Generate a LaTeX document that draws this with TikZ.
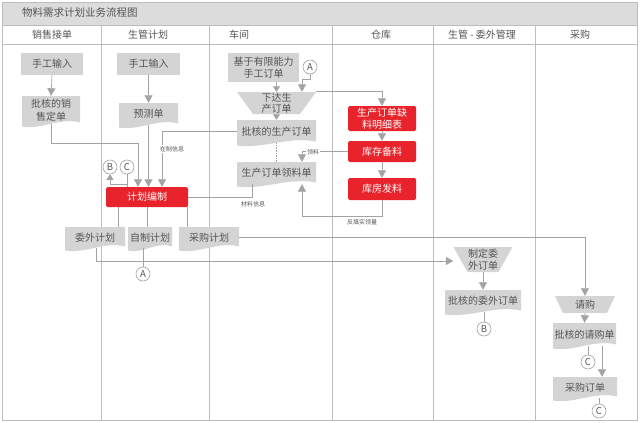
\documentclass[tikz,border=0pt]{standalone}
\usepackage{fontspec}
\setmainfont{Noto Sans CJK SC}
\usetikzlibrary{arrows.meta,calc}
\definecolor{boxgray}{HTML}{D4D4D4}
\definecolor{titlegray}{HTML}{DCDCDC}
\definecolor{linegray}{HTML}{A3A3A3}
\definecolor{txtgray}{HTML}{555555}
\definecolor{myred}{HTML}{E8232B}
\definecolor{framegray}{HTML}{BDBDBD}
\newcommand\docs[6]{%
  \fill[boxgray] (#2,#3) -- (#4,#3) -- (#4,{#5-1.5}) .. controls ({#2+0.65*(#4-#2)},{#5-7}) and ({#2+0.35*(#4-#2)},{#5+6}) .. (#2,{#5+2.5}) -- cycle;
  \node[gtext, minimum width={#4-#2}, minimum height={#5-#3}] (#1) at ({(#2+#4)/2},{(#3+#5)/2}) {#6};}
\newcommand\traps[8][]{%
  \fill[boxgray] ({#3-#6},#4) -- ({#3+#6},#4) -- ({#3+#7},#5) -- ({#3-#7},#5) -- cycle;
  \node[gtext, minimum width={2*#6}, minimum height={#5-#4}, #1] (#2) at (#3,{(#4+#5)/2}) {#8};}
\begin{document}
\begin{tikzpicture}[x=1pt,y=-1pt,
  conn/.style={draw=linegray, line width=0.65pt},
  arr/.style={conn, -{Triangle[width=8pt,length=7.5pt]}},
  sarr/.style={conn, -{Triangle[width=7pt,length=5.5pt]}},
  gtext/.style={text=txtgray, font=\fontsize{10}{12.5}\selectfont, inner sep=0pt, align=center},
  gbox/.style={gtext, fill=boxgray},
  rbox/.style={fill=myred, text=white, font=\fontsize{10}{12.5}\selectfont, inner sep=0pt, align=center, rounded corners=1.5pt, minimum width=68pt},
  circ/.style={circle, draw=linegray, line width=0.6pt, fill=white, minimum size=14pt, inner sep=0pt, text=txtgray, font=\fontsize{9.5}{9.5}\selectfont},
  lab/.style={text=txtgray, font=\fontsize{6}{6}\selectfont, inner sep=0.8pt},
  head/.style={text=txtgray, font=\fontsize{10}{11}\selectfont, inner sep=0pt},
  frame/.style={draw=framegray, line width=0.6pt}
]
\useasboundingbox (0,0) rectangle (640,423);
% frame
\fill[titlegray] (2,2) rectangle (637,25);
\draw[frame] (2,2) rectangle (637,420);
\draw[frame] (2,25) -- (637,25);
\draw[frame] (2,44) -- (637,44);
\foreach \x in {101,209,332,433,535} \draw[frame] (\x,25) -- (\x,420);
\node[head, anchor=west, font=\fontsize{10.5}{12}\selectfont] (title) at (22,13) {物料需求计划业务流程图};
\node[head] (h1) at (52,35) {销售接单};
\node[head] (h2) at (148,35) {生管计划};
\node[head] (h3) at (239,35) {车间};
\node[head] (h4) at (381,35) {仓库};
\node[head] (h5) at (482,35) {生管 - 委外管理};
\node[head] (h6) at (580,35) {采购};
% nodes
\node[gbox, minimum width=62pt, minimum height=22pt] (n1) at (52,64) {手工输入};
\node[gbox, minimum width=63pt, minimum height=22pt] (n2) at (148.5,64) {手工输入};
\node[gbox, minimum width=71pt, minimum height=29pt] (n3) at (263.5,67.5) {基于有限能力\\手工订单};
\node[circ] (A1) at (310,67) {A};
\docs{d1}{22}{96}{80}{124}{批核的销\\售定单}
\docs{d2}{119}{103}{178}{125}{预测单}
\traps[font=\fontsize{10}{11}\selectfont]{t1}{276.5}{92}{114}{39.5}{23.5}{下达生\\产订单}
\docs{d3}{237}{120}{316}{143}{批核的生产订单}
\docs{d4}{237}{162}{316}{184}{生产订单领料单}
\node[rbox, minimum height=25pt] (r1) at (382,118.5) {生产订单缺\\料明细表};
\node[rbox, minimum height=21pt] (r2) at (382,151.5) {库存备料};
\node[rbox, minimum height=22pt] (r3) at (382,189) {库房发料};
\node[rbox, minimum width=82pt, minimum height=20pt] (p) at (147,197) {计划编制};
\node[circ] (B1) at (110,167) {B};
\node[circ] (C1) at (127,167) {C};
\docs{d5}{65}{227}{125}{248}{委外计划}
\docs{d6}{128}{227}{172}{248}{自制计划}
\docs{d7}{179}{227}{239}{248}{采购计划}
\node[circ] (A2) at (143,274) {A};
\traps{t2}{483}{247}{272}{29.5}{15.5}{制定委\\外订单}
\docs{d8}{445}{290}{521}{312}{批核的委外订单}
\node[circ] (B2) at (484,329) {B};
\traps{t3}{585}{296}{313}{30}{22}{请购}
\docs{d9}{553}{323}{616}{346}{批核的请购单}
\node[circ] (C2) at (588,362) {C};
\docs{d10}{553}{377}{617}{398}{采购订单}
\node[circ] (C3) at (599,411) {C};
% helper coordinates
\coordinate (j1) at (138,143);
\coordinate (j2) at (162,0);
\coordinate (j3) at (127,184);
\coordinate (j4) at (302,79);
\coordinate (j5) at (302,0);
\coordinate (j6) at (302,216);
\coordinate (j7) at (252,0);
\coordinate (k1) at (118,0);
\coordinate (k2) at (147,0);
\coordinate (k3) at (187,0);
\coordinate (j9) at (96,261);
\coordinate (k9) at (602,0);
% connectors
\draw[arr] (n1.south) -- (d1.north);
\draw[arr] (n2.south) -- (d2.north);
\draw[arr] (d1.south) |- (j1) -- (j1 |- p.north);
\draw[arr] (d2.south) -- (d2.south |- p.north);
\draw[arr] (d3.west) -| (p.north -| j2);
\node[lab, fill=white] (l1) at (172,149) {在制信息};
\draw[conn] (C1.south) -- (C1.south |- p.north);
\draw[sarr] (j3) -| (B1.south);
\draw[sarr] (n3.south -| t1.north) -- (t1.north);
\draw[arr] (A1.south) |- (j4) -- (j4 |- t1.north);
\draw[arr] (t1.north east) -| (r1.north);
\draw[sarr] (t1.south) -- (d3.north);
\draw[conn, densely dotted] (d3.south) -- (d4.north);
\draw[arr] (r1.south) -- (r2.north);
\draw[arr] (r2.south) -- (r3.north);
\draw[arr] (r2.west) -| (d4.north -| j5);
\node[lab, fill=white] (l2) at (313,152) {领料};
\draw[arr] (r3.south) |- (j6) -- (j6 |- d4.south);
\node[lab] (l3) at (362,222) {反填实领量};
\draw[conn] (p.east) -| (d4.south -| j7);
\node[lab] (l4) at (253,204) {材料信息};
\draw[conn] (p.south -| k1) -- (d5.north -| k1);
\draw[conn] (p.south -| k2) -- (d6.north -| k2);
\draw[conn] (p.south -| k3) -- (d7.north -| k3);
\draw[arr] (d5.south -| j9) -- (j9) -- (j9 -| t2.west);
\draw[conn] (d6.south -| A2) -- (A2.north);
\draw[arr] (d7.east) -| (t3.north);
\draw[arr] (t2.south) -- (d8.north);
\draw[conn] (d8.south -| B2) -- (B2.north);
\draw[arr] (t3.south) -- (d9.north);
\draw[conn] (d9.south -| C2) -- (C2.north);
\draw[arr] (d9.south -| k9) -- (d10.north -| k9);
\draw[conn] (d10.south -| C3) -- (C3.north);
\end{tikzpicture}
\end{document}
